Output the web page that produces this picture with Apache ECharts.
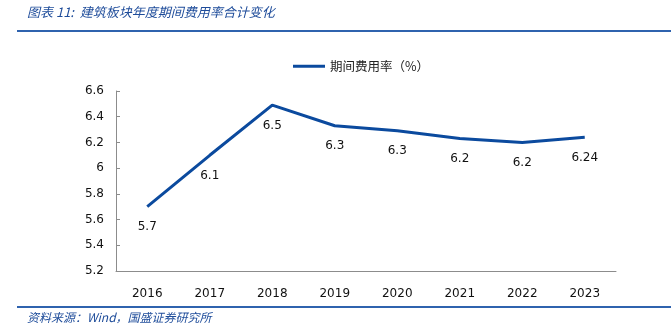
<!DOCTYPE html>
<html>
<head>
<meta charset="utf-8">
<script src="https://cdn.jsdelivr.net/npm/echarts@6/dist/echarts.min.js"></script>
<style>
  html, body { margin: 0; padding: 0; background: #fff; }
  #chart { width: 671px; height: 336px; }
</style>
</head>
<body>
<div id="chart"></div>
<script>
// Years on the category axis
const years = ['2016', '2017', '2018', '2019', '2020', '2021', '2022', '2023'];
// Combined period expense ratio of the construction sector (%)
const expenseRatio = [5.70, 6.10, 6.49, 6.33, 6.29, 6.23, 6.20, 6.24];
// Decimal places shown in each point's label
const labelDigits = [1, 1, 1, 1, 1, 1, 1, 2];
// Value axis range
const yMin = 5.2, yMax = 6.6, yStep = 0.2;

const seriesName = '期间费用率（%）';
const titleText = '图表 11:  建筑板块年度期间费用率合计变化';
const sourceText = '资料来源：Wind，国盛证券研究所';

const blue = '#0B4A9E';
const frameBlue = '#2F63AE';
const textBlue = '#1E4C9A';
const axisGray = '#8C8C8C';
const numFont = '"DejaVu Sans", Verdana, sans-serif';
const cjkFont = '"Noto Sans CJK SC", sans-serif';

const chart = echarts.init(document.getElementById('chart'), null, { renderer: 'canvas' });

chart.setOption({
  animation: false,
  backgroundColor: '#ffffff',
  grid: { left: 116, right: 55, top: 91, bottom: 65 },
  legend: {
    data: [seriesName],
    top: 55,
    left: 288,
    itemWidth: 32,
    itemHeight: 3,
    icon: 'rect',
    itemGap: 6,
    itemStyle: { color: blue, opacity: 1 },
    textStyle: { fontFamily: cjkFont, fontSize: 12.5, color: '#222' }
  },
  xAxis: {
    type: 'category',
    data: years,
    boundaryGap: true,
    axisLine: { lineStyle: { color: axisGray, width: 1 } },
    axisTick: { inside: true, length: 5, alignWithLabel: false, lineStyle: { color: axisGray } },
    axisLabel: { margin: 17, fontFamily: numFont, fontSize: 12, color: '#111' },
    splitLine: { show: false }
  },
  yAxis: {
    type: 'value',
    min: yMin,
    max: yMax,
    interval: yStep,
    axisLine: { show: true, lineStyle: { color: axisGray, width: 1 } },
    axisTick: { show: true, inside: true, length: 4, lineStyle: { color: axisGray } },
    axisLabel: {
      margin: 12,
      fontFamily: numFont,
      fontSize: 12,
      color: '#111',
      formatter: v => String(Number(v.toFixed(1)))
    },
    splitLine: { show: false }
  },
  series: [{
    name: seriesName,
    type: 'line',
    data: expenseRatio,
    showSymbol: true,
    symbol: 'circle',
    symbolSize: 1,
    lineStyle: { color: blue, width: 3 },
    itemStyle: { color: blue, opacity: 0 },
    label: {
      show: true,
      position: 'bottom',
      distance: 14,
      fontFamily: numFont,
      fontSize: 12,
      color: '#111',
      opacity: 1,
      formatter: p => expenseRatio[p.dataIndex].toFixed(labelDigits[p.dataIndex])
    },
    labelLayout: { hideOverlap: false }
  }],
  graphic: [
    {
      type: 'text', left: 27, top: 6,
      style: { text: titleText, font: 'italic 13px ' + cjkFont, fill: textBlue }
    },
    {
      type: 'rect', shape: { x: 17, y: 30, width: 654, height: 2 },
      style: { fill: frameBlue }
    },
    {
      type: 'rect', shape: { x: 17, y: 306, width: 654, height: 2 },
      style: { fill: frameBlue }
    },
    {
      type: 'text', left: 27, top: 311,
      style: { text: sourceText, font: 'italic 12px ' + cjkFont, fill: textBlue }
    }
  ]
});
</script>
</body>
</html>
